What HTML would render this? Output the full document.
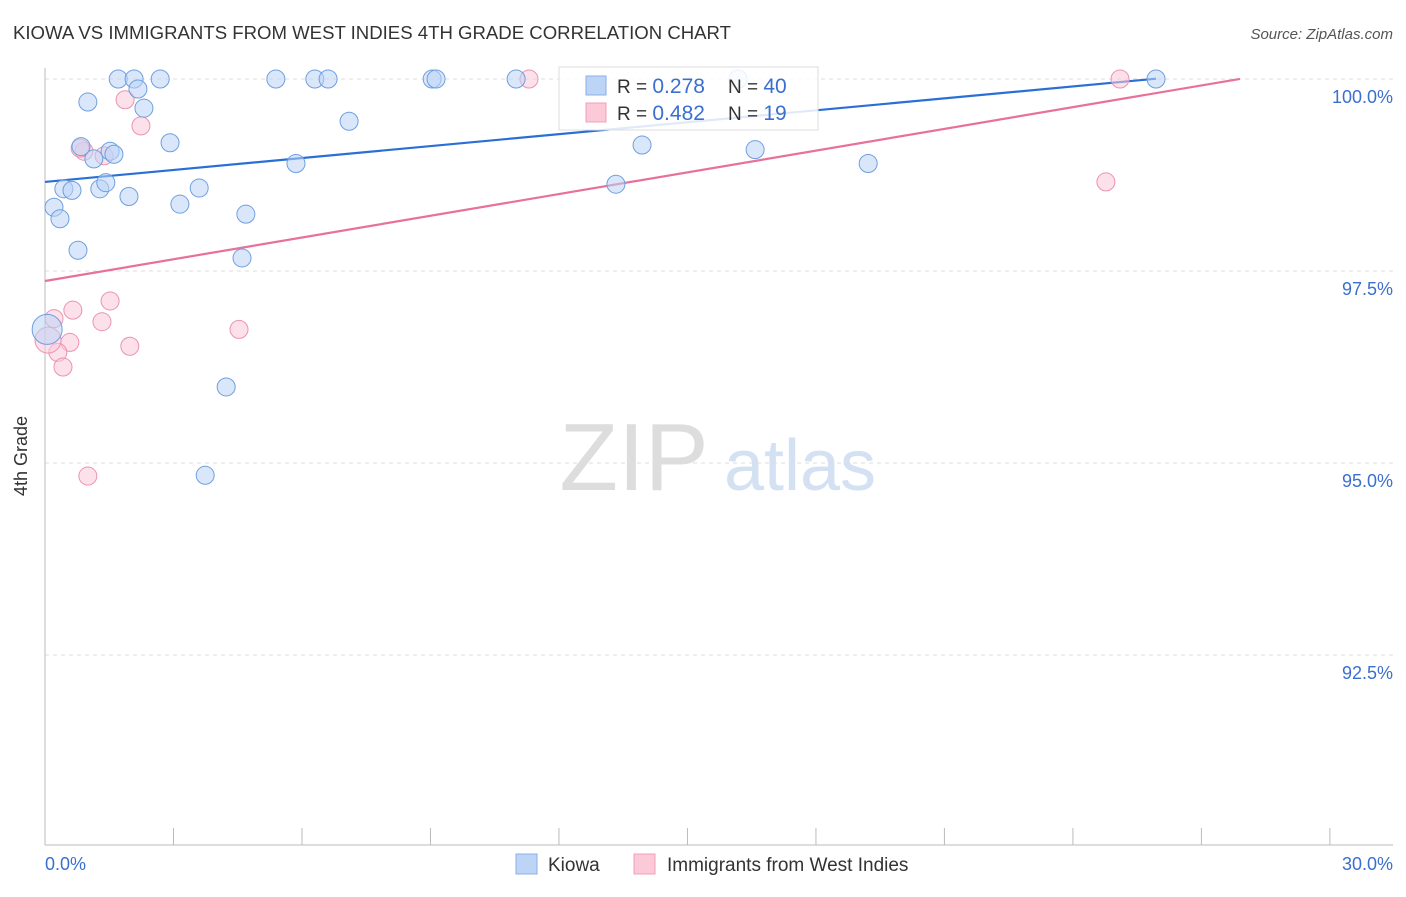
<!DOCTYPE html>
<html><head><meta charset="utf-8"><style>
body{margin:0;background:#fff;font-family:"Liberation Sans",sans-serif;}
svg text{font-family:"Liberation Sans",sans-serif;}
</style></head><body>
<svg width="1406" height="892" viewBox="0 0 1406 892" xmlns="http://www.w3.org/2000/svg">
<text x="13" y="39" font-size="18" fill="#333" textLength="718" lengthAdjust="spacingAndGlyphs">KIOWA VS IMMIGRANTS FROM WEST INDIES 4TH GRADE CORRELATION CHART</text>
<text x="1393" y="39" font-size="15" fill="#555" font-style="italic" text-anchor="end">Source: ZipAtlas.com</text>
<g>
<text x="634" y="490" font-size="96" fill="#ddd" font-family="Liberation Serif" text-anchor="middle">ZIP</text>
<text x="800" y="490" font-size="72" fill="#d3e1f3" text-anchor="middle">atlas</text>
</g>
<g id="grid"></g>
<line x1="45" y1="68" x2="45" y2="845" stroke="#bbb"/>
<line x1="45" y1="845" x2="1393" y2="845" stroke="#bbb"/>
<text x="27" y="456" font-size="18" fill="#333" transform="rotate(-90 27 456)" text-anchor="middle">4th Grade</text>
<text x="45" y="870" font-size="18" fill="#3a6fcf">0.0%</text>
<text x="1393" y="870" font-size="18" fill="#3a6fcf" text-anchor="end">30.0%</text>
<g id="ticks"></g>
<g id="lines"></g>
<g id="points"></g>
<g>
<rect x="559" y="67" width="259" height="63" fill="#fff" fill-opacity="0.85" stroke="#ddd"/>
<rect x="586" y="76" width="20" height="19" fill="#bcd4f6" stroke="#8ab0e8"/>
<rect x="586" y="103" width="20" height="19" fill="#fbc9d8" stroke="#f0a0b8"/>
<text x="617" y="93" font-size="19" fill="#333">R = <tspan fill="#3a6fcf" font-size="21">0.278</tspan></text>
<text x="728" y="93" font-size="19" fill="#333">N = <tspan fill="#3a6fcf" font-size="21">40</tspan></text>
<text x="617" y="120" font-size="19" fill="#333">R = <tspan fill="#3a6fcf" font-size="21">0.482</tspan></text>
<text x="728" y="120" font-size="19" fill="#333">N = <tspan fill="#3a6fcf" font-size="21"> 19</tspan></text>
</g>
<g>
<rect x="516" y="854" width="21" height="20" fill="#bcd4f6" stroke="#8ab0e8"/>
<text x="548" y="871" font-size="19" fill="#333">Kiowa</text>
<rect x="634" y="854" width="21" height="20" fill="#fbc9d8" stroke="#f0a0b8"/>
<text x="667" y="871" font-size="19" fill="#333">Immigrants from West Indies</text>
</g>
</svg>
<script>
const yTicks=[100,97.5,95,92.5];
const yTickLabels=["100.0%","97.5%","95.0%","92.5%"];
const xTicks=[0,3,6,9,12,15,18,21,24,27,30];
const kiowaX=[1.71,2.08,2.69,5.39,6.3,6.61,9.04,9.13,11.0,16.18,25.94,2.17,1.0,2.31,7.1,2.92,0.84,1.52,1.61,1.14,5.86,13.94,16.58,19.22,0.44,0.63,1.28,1.42,1.96,3.6,13.33,0.21,3.15,0.35,4.69,0.77,4.6,4.23,3.74,0.05];
const kiowaY=[100,100,100,100,100,100,100,100,100,100,100,99.87,99.7,99.62,99.45,99.17,99.12,99.06,99.02,98.96,98.9,99.14,99.08,98.9,98.57,98.55,98.57,98.65,98.47,98.58,98.63,98.33,98.37,98.18,98.24,97.77,97.67,95.99,94.84,96.74];
const wiX=[1.87,2.24,0.91,0.82,1.38,11.3,25.1,24.77,1.52,0.65,0.21,1.33,4.53,1.98,0.58,0.3,0.42,1.0,0.07];
const wiY=[99.73,99.39,99.06,99.1,99.0,100,100,98.66,97.11,96.99,96.88,96.84,96.74,96.52,96.57,96.44,96.25,94.83,96.6];
const kiowaFit=[98.66,0.0518];
const wiFit=[97.37,0.0943];
const X=v=>45+v*42.83, Y=v=>79+(100-v)*76.8;
const NS="http://www.w3.org/2000/svg";
function mk(t,a,p){const e=document.createElementNS(NS,t);for(const k in a)e.setAttribute(k,a[k]);document.getElementById(p).appendChild(e);return e;}
yTicks.forEach((v,i)=>{
 const l=mk('line',{x1:45,x2:1393,y1:Y(v),y2:Y(v),stroke:'#ddd','stroke-dasharray':'4,4'},'grid');
 
 
 const t=mk('text',{x:1393,y:Y(v)+24,'font-size':18,fill:'#3a6fcf','text-anchor':'end'},'grid');
 t.textContent=yTickLabels[i];
 
 
});
xTicks.forEach(v=>{
 const l=mk('line',{x1:X(v),x2:X(v),y1:828,y2:845,stroke:'#bbb'},'ticks');
 
 
});
function trend(f,x1,col,name){
 const l=mk('line',{x1:X(0),y1:Y(f[0]),x2:X(x1),y2:Y(f[0]+f[1]*x1),stroke:col,'stroke-width':2.2},'lines');
 
 
}
trend(kiowaFit,25.94,'#2a6fd6','kiowa-trend-line');
trend(wiFit,27.9,'#e8709a','west-indies-trend-line');
function pts(xs,ys,fill,stroke,name,bigR){
 xs.forEach((x,i)=>{
  const big=(x<0.1);
  const c=mk('circle',{cx:X(x),cy:Y(ys[i]),r:big?bigR:9,fill:fill,'fill-opacity':0.55,stroke:stroke,'stroke-width':1},'points');
  
  
 });
}
pts(wiX,wiY,'#fbc9d8','#eb93b0','west-indies-point',13);
pts(kiowaX,kiowaY,'#bcd4f6','#6e9fe0','kiowa-point',15);
</script>
</body></html>
